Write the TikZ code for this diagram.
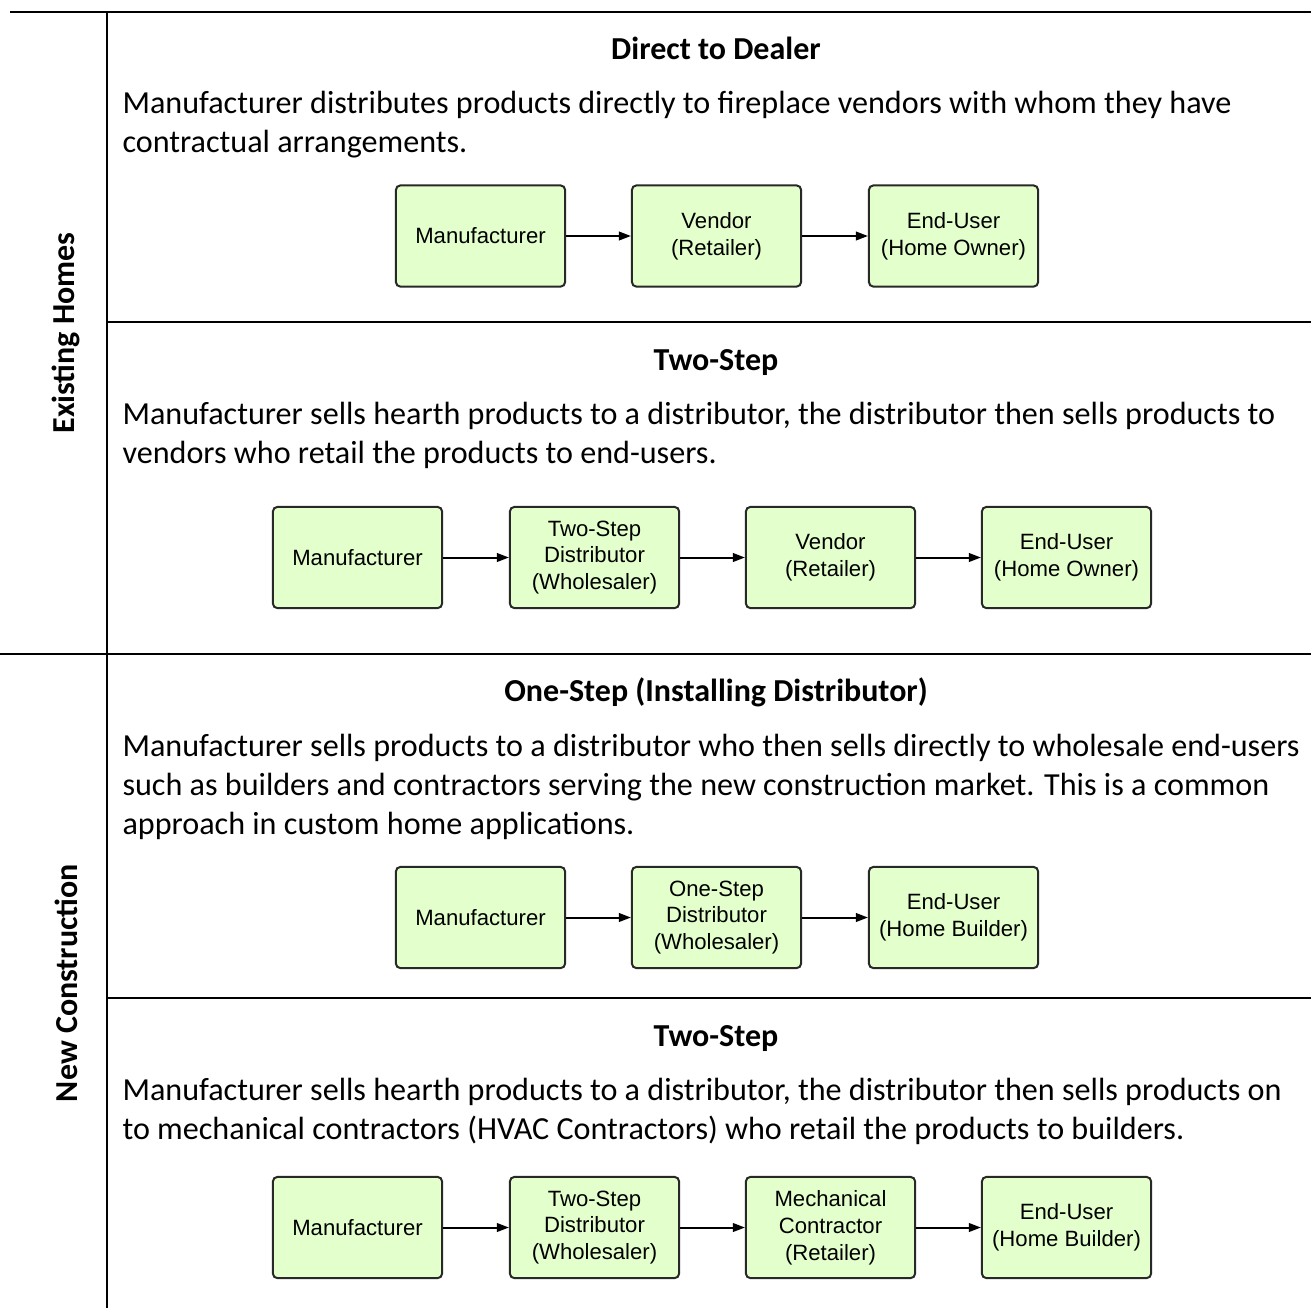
\documentclass[tikz,border=0pt]{standalone}
\usepackage{fontspec}
\setmainfont{Carlito}
\newfontfamily\boxfont{Liberation Sans}
\usetikzlibrary{arrows.meta}
\definecolor{boxgreen}{RGB}{227,255,204}
\definecolor{boxline}{RGB}{40,40,40}
\begin{document}
\begin{tikzpicture}[x=0.375pt,y=-0.375pt,
  sepline/.style={line width=1.1pt, black},
  chbox/.style={draw=boxline, fill=boxgreen, rounded corners=1.6pt, line width=0.75pt,
    minimum width=63.4pt, minimum height=37.9pt, align=center, inner sep=0pt,
    font=\boxfont\fontsize{8.3}{10.1}\selectfont},
  flow/.style={-{Triangle[length=4.5pt,width=3.2pt]}, line width=0.75pt, black},
  heading/.style={font=\bfseries\fontsize{12}{14.6}\selectfont, anchor=base},
  para/.style={font=\fontsize{12.05}{14.625}\selectfont, anchor=base west, align=left, inner sep=0pt},
  sidelabel/.style={font=\bfseries\fontsize{12}{14.6}\selectfont, rotate=90}
]
\useasboundingbox (0,0) rectangle (1311,1308);

% frame lines
\draw[sepline] (10,12) -- (1311,12);
\draw[sepline] (107,12) -- (107,1308);
\draw[sepline] (107,322) -- (1311,322);
\draw[sepline] (0,654) -- (1311,654);
\draw[sepline] (107,998) -- (1311,998);

% side labels
\node[sidelabel] (lblA) at (66,333) {Existing Homes};
\node[sidelabel] (lblB) at (66,983) {New Construction};

% Section 1
\node[heading] (h1) at (716,59) {Direct to Dealer};
\node[para] (p1) at (122,152) {Manufacturer distributes products directly to fireplace vendors with whom they have\\contractual arrangements.};
\node[chbox] (a1) at (480.5,236) {Manufacturer};
\node[chbox] (a2) at (716.5,236) {Vendor\\(Retailer)};
\node[chbox] (a3) at (953.5,236) {End-User\\(Home Owner)};
\draw[flow] (a1) -- (a2);
\draw[flow] (a2) -- (a3);

% Section 2
\node[heading] (h2) at (716,370) {Two-Step};
\node[para] (p2) at (122,463) {Manufacturer sells hearth products to a distributor, the distributor then sells products to\\vendors who retail the products to end-users.};
\node[chbox] (b1) at (357.5,557.5) {Manufacturer};
\node[chbox] (b2) at (594.5,557.5) {Two-Step\\Distributor\\(Wholesaler)};
\node[chbox] (b3) at (830.5,557.5) {Vendor\\(Retailer)};
\node[chbox] (b4) at (1066.5,557.5) {End-User\\(Home Owner)};
\draw[flow] (b1) -- (b2);
\draw[flow] (b2) -- (b3);
\draw[flow] (b3) -- (b4);

% Section 3
\node[heading] (h3) at (716,701) {One-Step (Installing Distributor)};
\node[para] (p3) at (122,834) {Manufacturer sells products to a distributor who then sells directly to wholesale end-users\\such as builders and contractors serving the new construction market. This is a common\\approach in custom home applications.};
\node[chbox] (c1) at (480.5,917.5) {Manufacturer};
\node[chbox] (c2) at (716.5,917.5) {One-Step\\Distributor\\(Wholesaler)};
\node[chbox] (c3) at (953.5,917.5) {End-User\\(Home Builder)};
\draw[flow] (c1) -- (c2);
\draw[flow] (c2) -- (c3);

% Section 4
\node[heading] (h4) at (716,1046) {Two-Step};
\node[para] (p4) at (122,1139) {Manufacturer sells hearth products to a distributor, the distributor then sells products on\\to mechanical contractors (HVAC Contractors) who retail the products to builders.};
\node[chbox] (d1) at (357.5,1227.5) {Manufacturer};
\node[chbox] (d2) at (594.5,1227.5) {Two-Step\\Distributor\\(Wholesaler)};
\node[chbox] (d3) at (830.5,1227.5) {Mechanical\\Contractor\\(Retailer)};
\node[chbox] (d4) at (1066.5,1227.5) {End-User\\(Home Builder)};
\draw[flow] (d1) -- (d2);
\draw[flow] (d2) -- (d3);
\draw[flow] (d3) -- (d4);
\end{tikzpicture}
\end{document}
